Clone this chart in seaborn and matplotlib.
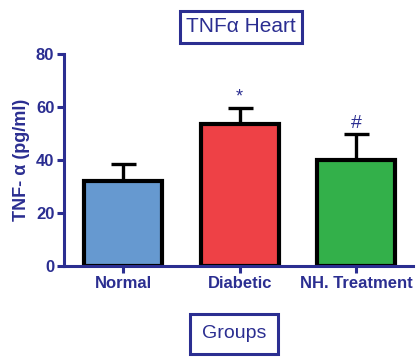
import matplotlib
matplotlib.use("Agg")
import matplotlib.pyplot as plt
import seaborn as sns
import pandas as pd

groups = ["Normal", "Diabetic", "NH. Treatment"]
means = [32.2, 53.4, 40.0]
sem = [6.4, 6.2, 9.9]
markers = ["", "*", "#"]
bar_colors = ["#6699D0", "#EE4146", "#33B04A"]
yticks = [0, 20, 40, 60, 80]

navy = "#2B2E91"

sns.set_theme(style="white")
plt.rcParams["font.family"] = ["Liberation Sans", "DejaVu Sans"]

df = pd.DataFrame({"group": groups, "value": means})

fig = plt.figure(figsize=(4.19, 3.62), dpi=100)
ax = fig.add_axes([64 / 419, 96 / 362, (413 - 64) / 419, (266 - 54) / 362])

sns.barplot(data=df, x="group", y="value", hue="group", palette=bar_colors,
            order=groups, hue_order=groups, legend=False, width=0.67,
            saturation=1, edgecolor="black", linewidth=3.0, ax=ax, zorder=2)

# upward-only error bars
ax.errorbar(range(len(groups)), means, yerr=[[0] * len(groups), sem],
            fmt="none", ecolor="black", elinewidth=2.4, capsize=9,
            capthick=2.4, zorder=1)

for i, (m, s, t) in enumerate(zip(means, sem, markers)):
    if t:
        ax.text(i, m + s + 0.8, t, ha="center", va="bottom", color=navy,
                fontsize=14 if t == "#" else 13)

ax.set_ylim(0, 80)
ax.set_xlim(-0.51, 2.49)
ax.set_yticks(yticks)
ax.set_yticklabels([str(v) for v in yticks])

for side in ["top", "right"]:
    ax.spines[side].set_visible(False)
for side in ["left", "bottom"]:
    ax.spines[side].set_color(navy)
    ax.spines[side].set_linewidth(2.2)
    ax.spines[side].set_zorder(3)

ax.tick_params(axis="both", colors=navy, width=2.2, length=5,
               direction="out", labelsize=12, pad=2)
ax.tick_params(axis="y", left=True)
ax.tick_params(axis="x", bottom=True)
for lab in ax.get_xticklabels() + ax.get_yticklabels():
    lab.set_fontweight("bold")
    lab.set_color(navy)

ax.set_ylabel("TNF- α (pg/ml)", color=navy, fontsize=13, fontweight="bold",
              labelpad=4)
ax.set_xlabel("")

fig.text(241 / 419, 1 - 27 / 362, "TNFα Heart", ha="center", va="center",
         color=navy, fontsize=15,
         bbox=dict(boxstyle="square,pad=0.3", facecolor="white",
                   edgecolor=navy, linewidth=2.2))
fig.text(234 / 419, 1 - 334 / 362, "Groups", ha="center", va="center",
         color=navy, fontsize=14,
         bbox=dict(boxstyle="square,pad=0.6", facecolor="white",
                   edgecolor=navy, linewidth=2.2))

fig.savefig("out.png", dpi=100)
